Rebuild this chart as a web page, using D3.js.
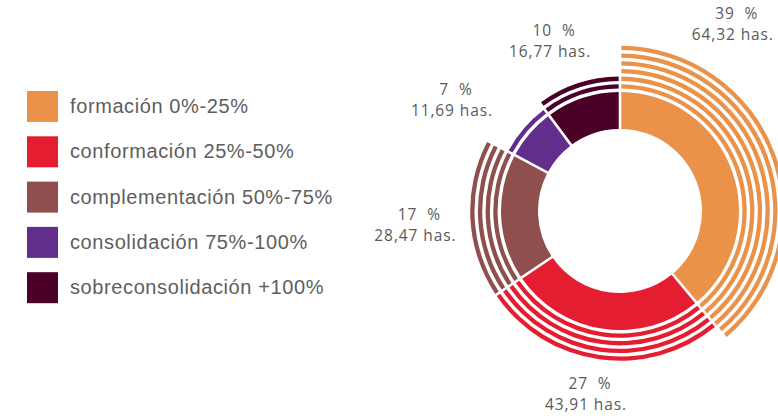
<!DOCTYPE html>
<html>
<head>
<meta charset="utf-8">
<script src="https://cdn.jsdelivr.net/npm/d3@7"></script>
<style>
  body { margin: 0; background: #fff; }
  svg { display: block; }
</style>
</head>
<body>
<div id="chart"></div>
<script>
// categories, values
const categories = [
  "formación 0%-25%",
  "conformación 25%-50%",
  "complementación 50%-75%",
  "consolidación 75%-100%",
  "sobreconsolidación +100%"
];
const hectares = [64.32, 43.91, 28.47, 11.69, 16.77];
const percents = [39, 27, 17, 7, 10];
const ringCounts = [6, 4, 4, 1, 2];
const colors = ["#EA9249", "#E41D30", "#8F4F4F", "#632D8E", "#4A0027"];

const width = 778, height = 418;
const cx = 620, cy = 211;
const innerR = 82, solidR = 119;
const bandGap = 3.4, bandW = 4.3;

const svg = d3.select("#chart").append("svg")
    .attr("width", width)
    .attr("height", height);

// legend
const legend = svg.append("g").attr("transform", "translate(27,91)");
const row = legend.selectAll("g")
  .data(categories)
  .join("g")
    .attr("transform", (d, i) => `translate(0,${i * 45.3})`);

row.append("rect")
    .attr("width", 31)
    .attr("height", 31)
    .attr("fill", (d, i) => colors[i]);

row.append("text")
    .attr("x", 43)
    .attr("y", 22)
    .attr("fill", "#5e5e5e")
    .style("font", "20px 'Liberation Sans', Arial, sans-serif")
    .style("letter-spacing", "0.6px")
    .text(d => d);

// donut
const pie = d3.pie().sort(null).value(d => d);
const arcs = pie(hectares);

const g = svg.append("g").attr("transform", `translate(${cx},${cy})`);

const solidArc = d3.arc()
    .innerRadius(innerR)
    .outerRadius(solidR)
    .padAngle(0.026)
    .padRadius(100);

g.selectAll("path.solid")
  .data(arcs)
  .join("path")
    .attr("class", "solid")
    .attr("fill", (d, i) => colors[i])
    .attr("d", solidArc);

// thin outer bands
const bands = [];
arcs.forEach((a, i) => {
  for (let k = 0; k < ringCounts[i]; k++) {
    const r0 = solidR + bandGap + k * (bandW + bandGap);
    bands.push({ a, i, r0, r1: r0 + bandW });
  }
});

g.selectAll("path.band")
  .data(bands)
  .join("path")
    .attr("class", "band")
    .attr("fill", d => colors[d.i])
    .attr("d", d => d3.arc()
        .innerRadius(d.r0)
        .outerRadius(d.r1)
        .padAngle(0.026)
        .padRadius(100)(d.a));

// labels: polar placement around the ring (angle in degrees, radius)
const labelPolar = [[31, 219], [190.6, 185], [266.5, 205], [303.7, 202], [337.8, 185]];
const fmt = v => v.toFixed(2).replace(".", ",");

const lab = g.selectAll("text.lab")
  .data(arcs)
  .join("text")
    .attr("class", "lab")
    .attr("transform", (d, i) => {
      const t = labelPolar[i][0] * Math.PI / 180, r = labelPolar[i][1];
      return `translate(${r * Math.sin(t)},${-r * Math.cos(t)})`;
    })
    .attr("fill", "#5a5a5a")
    .attr("text-anchor", "middle")
    .style("white-space", "pre")
    .style("letter-spacing", "0.9px")
    .style("font", "15.5px 'Open Sans', sans-serif");

lab.append("tspan")
    .attr("x", 4)
    .attr("y", -4)
    .text((d, i) => percents[i] + "  %");

lab.append("tspan")
    .attr("x", 0)
    .attr("y", 17)
    .text((d, i) => fmt(hectares[i]) + " has.");
</script>
</body>
</html>
